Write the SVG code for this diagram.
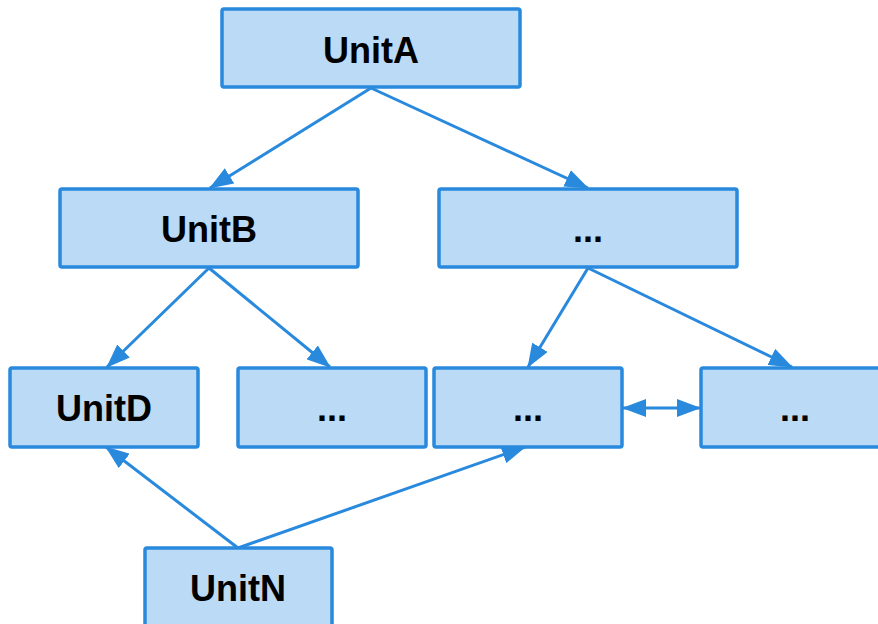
<svg xmlns="http://www.w3.org/2000/svg" width="878" height="624" viewBox="0 0 878 624">
<style>
.box{fill:#badaf6;stroke:#2889dd;stroke-width:3.5}
.lbl{font-family:"Liberation Sans",Arial,sans-serif;font-weight:bold;font-size:36px;fill:#000;text-anchor:middle}
.c{stroke:#2889dd;stroke-width:3;fill:none}
</style>
<defs>
<marker id="ah" markerUnits="userSpaceOnUse" markerWidth="24" markerHeight="18" viewBox="0 0 24 18" refX="23" refY="9" orient="auto-start-reverse">
<path d="M0,0 L24,9 L0,18 z" fill="#2889dd"/>
</marker>
</defs>
<rect width="878" height="624" fill="#fff"/>
<g id="connectors">
<path class="c" d="M371,88 L210,188" marker-end="url(#ah)"/>
<path class="c" d="M371,88 L588,188" marker-end="url(#ah)"/>
<path class="c" d="M209,268 L107,367" marker-end="url(#ah)"/>
<path class="c" d="M209,268 L330,367" marker-end="url(#ah)"/>
<path class="c" d="M588,268 L528,367" marker-end="url(#ah)"/>
<path class="c" d="M588,268 L792,367" marker-end="url(#ah)"/>
<path class="c" d="M623,408 L700,408" marker-start="url(#ah)" marker-end="url(#ah)"/>
<path class="c" d="M238,548 L106,447" marker-end="url(#ah)"/>
<path class="c" d="M238,548 L525,447" marker-end="url(#ah)"/>
</g>
<g id="unitA"><rect class="box" x="222" y="9" width="298" height="78" rx="2"/><text class="lbl" x="371" y="63">UnitA</text></g>
<g id="unitB"><rect class="box" x="60" y="189" width="298" height="78" rx="2"/><text class="lbl" x="209" y="242">UnitB</text></g>
<g id="unitC"><rect class="box" x="439" y="189" width="298" height="78" rx="2"/><text class="lbl" x="588" y="242">...</text></g>
<g id="unitD"><rect class="box" x="10" y="368" width="188" height="79" rx="2"/><text class="lbl" x="104" y="421">UnitD</text></g>
<g id="unitE"><rect class="box" x="238" y="368" width="188" height="79" rx="2"/><text class="lbl" x="332" y="421">...</text></g>
<g id="unitF"><rect class="box" x="434" y="368" width="188" height="79" rx="2"/><text class="lbl" x="528" y="421">...</text></g>
<g id="unitG"><rect class="box" x="701" y="368" width="188" height="79" rx="2"/><text class="lbl" x="795" y="421">...</text></g>
<g id="unitN"><rect class="box" x="145" y="548" width="187" height="90" rx="2"/><text class="lbl" x="238" y="601">UnitN</text></g>
</svg>
